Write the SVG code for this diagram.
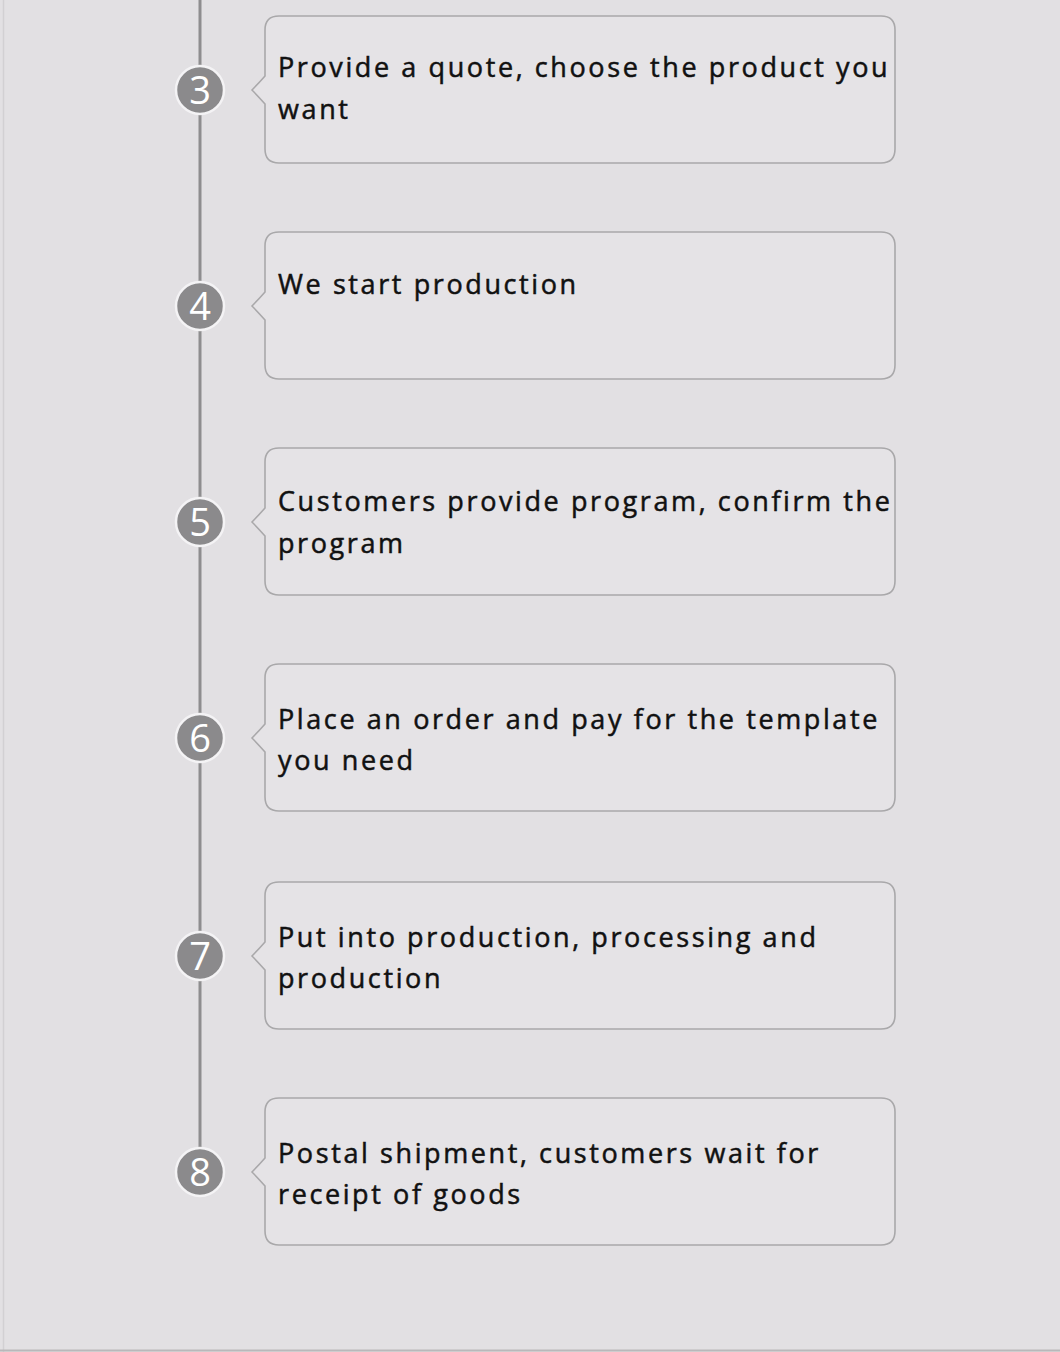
<svg xmlns="http://www.w3.org/2000/svg" width="1060" height="1352" viewBox="0 0 1060 1352">
<style>
.bubble{fill:#e5e3e6;stroke:#a9a8aa;stroke-width:1.6}
.num{fill:#8b8a8c;stroke:#f4f3f5;stroke-width:2.5}
.numt{font-family:"Open Sans","Liberation Sans",sans-serif;font-size:38px;fill:#ffffff;text-anchor:middle}
.lbl{font-family:"Open Sans","Liberation Sans",sans-serif;font-size:27px;font-weight:500;fill:#111111;stroke:#111111;stroke-width:0.5px;letter-spacing:2.6px}
</style>
<defs>
<path id="b" d="M 279 -74 H 881 Q 895 -74 895 -60 V 59 Q 895 73 881 73 H 279 Q 265 73 265 59 V 14 Q 258 6 252 0 Q 258 -6 265 -14 V -60 Q 265 -74 279 -74 Z"/>
</defs>
<rect width="1060" height="1352" fill="#e2e0e3"/>
<line x1="3.5" y1="0" x2="3.5" y2="1352" stroke="#d2d0d3" stroke-width="1.5"/>
<line x1="0" y1="1350.5" x2="1060" y2="1350.5" stroke="#b9b8ba" stroke-width="2"/>
<g id="connectors">
<line x1="200" y1="0" x2="200" y2="1148" stroke="#8e8d8f" stroke-width="3"/>
</g>
<g id="step3" transform="translate(0,90)">
<use href="#b" class="bubble"/>
<circle cx="200" cy="0" r="24" class="num"/>
<text x="200" y="14" class="numt">3</text>
<text x="278" y="-13" class="lbl">Provide a quote, choose the product you</text>
<text x="278" y="29" class="lbl">want</text>
</g>
<g id="step4" transform="translate(0,306)">
<use href="#b" class="bubble"/>
<circle cx="200" cy="0" r="24" class="num"/>
<text x="200" y="14" class="numt">4</text>
<text x="278" y="-12" class="lbl">We start production</text>
</g>
<g id="step5" transform="translate(0,522)">
<use href="#b" class="bubble"/>
<circle cx="200" cy="0" r="24" class="num"/>
<text x="200" y="14" class="numt">5</text>
<text x="278" y="-11" class="lbl">Customers provide program, confirm the</text>
<text x="278" y="31" class="lbl">program</text>
</g>
<g id="step6" transform="translate(0,738)">
<use href="#b" class="bubble"/>
<circle cx="200" cy="0" r="24" class="num"/>
<text x="200" y="14" class="numt">6</text>
<text x="278" y="-9" class="lbl">Place an order and pay for the template</text>
<text x="278" y="32" class="lbl">you need</text>
</g>
<g id="step7" transform="translate(0,956)">
<use href="#b" class="bubble"/>
<circle cx="200" cy="0" r="24" class="num"/>
<text x="200" y="14" class="numt">7</text>
<text x="278" y="-9" class="lbl">Put into production, processing and</text>
<text x="278" y="32" class="lbl">production</text>
</g>
<g id="step8" transform="translate(0,1172)">
<use href="#b" class="bubble"/>
<circle cx="200" cy="0" r="24" class="num"/>
<text x="200" y="14" class="numt">8</text>
<text x="278" y="-9" class="lbl">Postal shipment, customers wait for</text>
<text x="278" y="32" class="lbl">receipt of goods</text>
</g>
</svg>
